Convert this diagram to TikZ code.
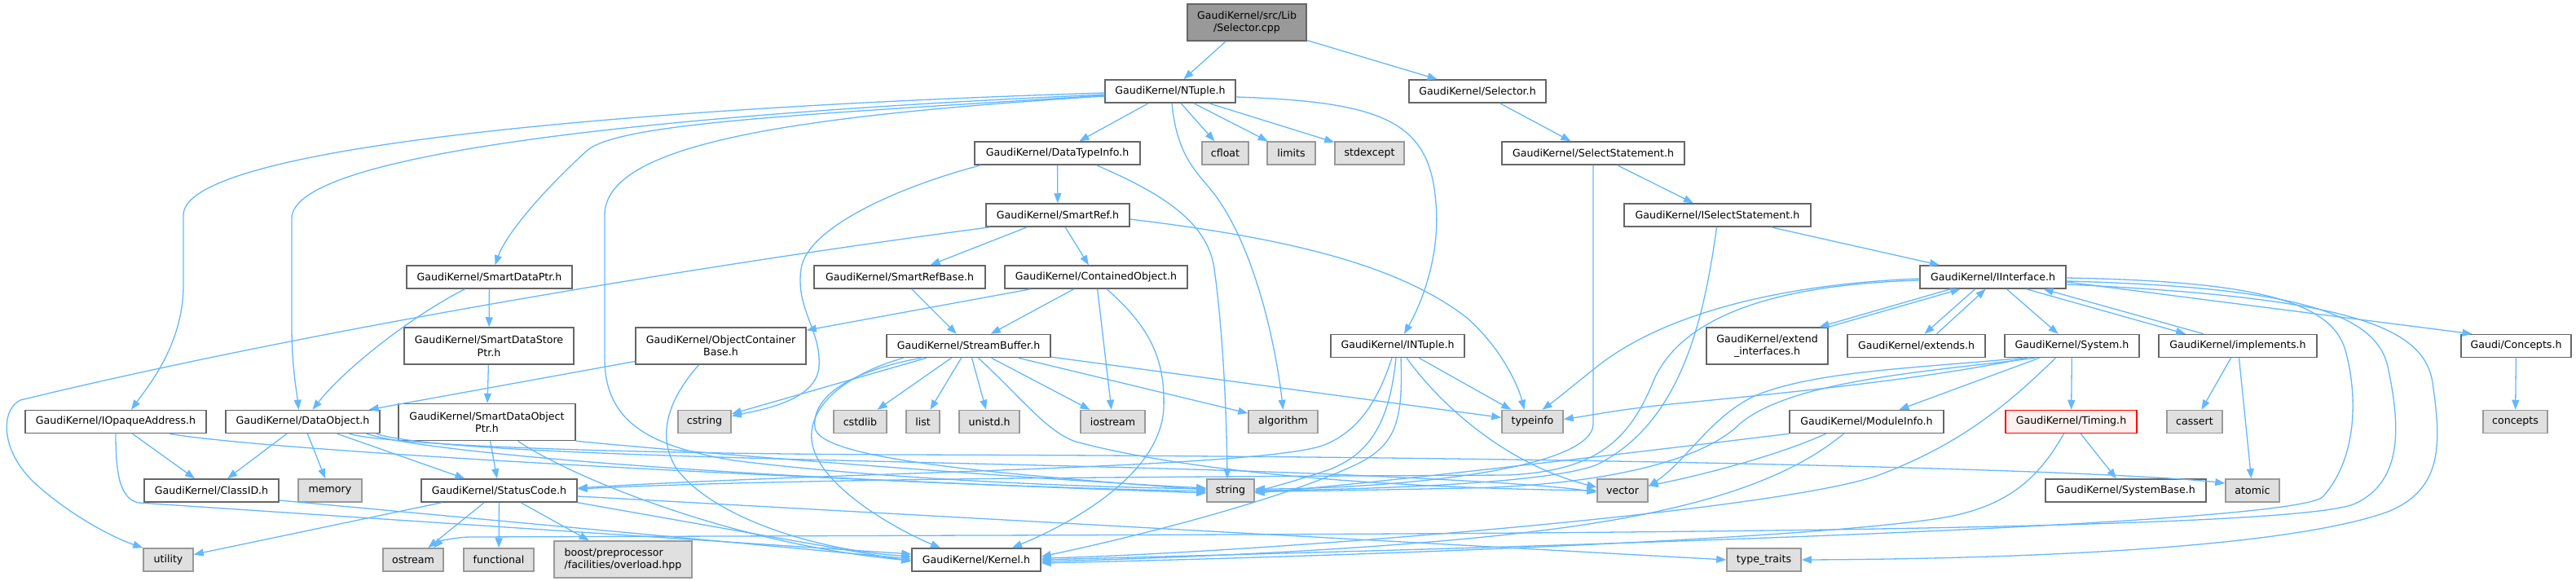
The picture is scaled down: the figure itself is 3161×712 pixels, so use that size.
\documentclass[tikz,border=0pt]{standalone}
\usepackage{fontspec}
\setmainfont{DejaVu Sans}
\usepackage{tikz}
\usetikzlibrary{arrows.meta}
\definecolor{dxblue}{HTML}{63B8FF}
\definecolor{dxline}{HTML}{666666}
\definecolor{sysfill}{HTML}{E0E0E0}
\definecolor{sysline}{HTML}{999999}
\definecolor{rootfill}{HTML}{999999}
\definecolor{cutfill}{HTML}{FFF0F0}

\begin{document}
\begin{tikzpicture}[x=1pt,y=-1pt,
  hdr/.style={draw=dxline,fill=white,line width=1.5pt,inner sep=1pt,minimum height=28pt,font=\fontsize{12.6}{15.5}\selectfont},
  sys/.style={hdr,fill=sysfill,draw=sysline},
  two/.style={hdr,minimum height=45pt,align=center},
  srcbox/.style={two,fill=rootfill},
  cut/.style={hdr,fill=cutfill,draw=red},
  dep/.style={draw=dxblue,line width=1.3pt,-{Triangle[length=12pt,width=9pt]}}]
\useasboundingbox (0,0) rectangle (3161,712);

% rows of headers
\node[srcbox,minimum width=146pt] (root) at (1530,27.5) {GaudiKernel/src/Lib\\/Selector.cpp};
\node[hdr,minimum width=160pt] (ntuple) at (1436,112) {GaudiKernel/NTuple.h};
\node[hdr,minimum width=168pt] (selh) at (1813,112) {GaudiKernel/Selector.h};
\node[hdr,minimum width=203pt] (dti) at (1297.5,188) {GaudiKernel/DataTypeInfo.h};
\node[sys,minimum width=57pt] (cfloat) at (1503.5,188) {cfloat};
\node[sys,minimum width=59pt] (limits) at (1584.5,188) {limits};
\node[sys,minimum width=85pt] (stdexcept) at (1680.5,188) {stdexcept};
\node[hdr,minimum width=224pt] (selst) at (1955,188) {GaudiKernel/SelectStatement.h};
\node[hdr,minimum width=176pt] (smartref) at (1298,264) {GaudiKernel/SmartRef.h};
\node[hdr,minimum width=229pt] (isel) at (2107.5,264) {GaudiKernel/ISelectStatement.h};
\node[hdr,minimum width=203pt] (sdptr) at (600.5,340) {GaudiKernel/SmartDataPtr.h};
\node[hdr,minimum width=210pt] (srbase) at (1104,340) {GaudiKernel/SmartRefBase.h};
\node[hdr,minimum width=224pt] (contobj) at (1345,340) {GaudiKernel/ContainedObject.h};
\node[hdr,minimum width=179pt] (iface) at (2445.5,340) {GaudiKernel/IInterface.h};
\node[two,minimum width=208pt] (sdsptr) at (600,424.5) {GaudiKernel/SmartDataStore\\Ptr.h};
\node[two,minimum width=209pt] (ocb) at (884.5,424.5) {GaudiKernel/ObjectContainer\\Base.h};
\node[hdr,minimum width=201pt] (sbuf) at (1188.5,424.5) {GaudiKernel/StreamBuffer.h};
\node[hdr,minimum width=164pt] (intuple) at (1715,424.5) {GaudiKernel/INTuple.h};
\node[two,minimum width=149pt] (extif) at (2168.5,424.5) {GaudiKernel/extend\\\_interfaces.h};
\node[hdr,minimum width=169pt] (extends) at (2351.5,424.5) {GaudiKernel/extends.h};
\node[hdr,minimum width=165pt] (system) at (2542.5,424.5) {GaudiKernel/System.h};
\node[hdr,minimum width=194pt] (impl) at (2746,424.5) {GaudiKernel/implements.h};
\node[hdr,minimum width=135pt] (concepth) at (3087.5,424.5) {Gaudi/Concepts.h};
\node[hdr,minimum width=222pt] (ioa) at (142,517.5) {GaudiKernel/IOpaqueAddress.h};
\node[hdr,minimum width=189pt] (dobj) at (371.5,517.5) {GaudiKernel/DataObject.h};
\node[two,minimum width=217pt] (sdoptr) at (597.5,518) {GaudiKernel/SmartDataObject\\Ptr.h};
\node[sys,minimum width=65pt] (cstring) at (864.5,517.5) {cstring};
\node[sys,minimum width=65pt] (cstdlib) at (1055.5,517.5) {cstdlib};
\node[sys,minimum width=41pt] (list) at (1132.5,517.5) {list};
\node[sys,minimum width=74pt] (unistd) at (1214,517.5) {unistd.h};
\node[sys,minimum width=79pt] (iostream) at (1365.5,517.5) {iostream};
\node[sys,minimum width=85pt] (algorithm) at (1574.5,517.5) {algorithm};
\node[sys,minimum width=75pt] (typeinfo) at (1880.5,517.5) {typeinfo};
\node[hdr,minimum width=189pt] (modinfo) at (2290.5,517.5) {GaudiKernel/ModuleInfo.h};
\node[cut,minimum width=161pt] (timing) at (2541.5,517.5) {GaudiKernel/Timing.h};
\node[sys,minimum width=68pt] (cassert) at (2693,517.5) {cassert};
\node[sys,minimum width=79pt] (concepts) at (3086.5,517.5) {concepts};
\node[hdr,minimum width=165pt] (classid) at (259.5,602) {GaudiKernel/ClassID.h};
\node[sys,minimum width=78pt] (memory) at (405,602) {memory};
\node[hdr,minimum width=191pt] (statuscode) at (612.5,602) {GaudiKernel/StatusCode.h};
\node[sys,minimum width=58pt] (string) at (1510,602) {string};
\node[sys,minimum width=62pt] (vector) at (1991,602) {vector};
\node[hdr,minimum width=197pt] (sysbase) at (2608.5,602) {GaudiKernel/SystemBase.h};
\node[sys,minimum width=66pt] (atomic) at (2764,602) {atomic};
\node[sys,minimum width=61pt] (utility) at (206.5,687) {utility};
\node[sys,minimum width=74pt] (ostream) at (507,687) {ostream};
\node[sys,minimum width=86pt] (functional) at (612,687) {functional};
\node[sys,minimum height=45pt,align=left,minimum width=169pt] (boost) at (764.5,686.5) {boost/preprocessor\\/facilities/overload.hpp};
\node[hdr,minimum width=158pt] (kernel) at (1198,687) {GaudiKernel/Kernel.h};
\node[sys,minimum width=91pt] (typetraits) at (2164.5,687) {type\_traits};

% short includes
\draw[dep] (root) -- (ntuple);
\draw[dep] (root) -- (selh);
\draw[dep] (selh) -- (selst);
\draw[dep] (selst) -- (isel);
\draw[dep] (isel) -- (iface);
\draw[dep] (ntuple) -- (dti);
\draw[dep] (ntuple) -- (cfloat);
\draw[dep] (ntuple) -- (limits);
\draw[dep] (ntuple) -- (stdexcept);
\draw[dep] (dti) -- (smartref);
\draw[dep] (smartref) -- (srbase);
\draw[dep] (smartref) -- (contobj);
\draw[dep] (srbase) -- (sbuf);
\draw[dep] (contobj) -- (sbuf);
\draw[dep] (contobj) -- (ocb);
\draw[dep] (contobj) -- (iostream);
\draw[dep] (sdptr) -- (sdsptr);
\draw[dep] (sdsptr) -- (sdoptr);
\draw[dep] (ocb) -- (dobj);
\draw[dep] (sbuf) -- (cstdlib);
\draw[dep] (sbuf) -- (list);
\draw[dep] (sbuf) -- (unistd);
\draw[dep] (sbuf) -- (iostream);
\draw[dep] (sbuf) -- (algorithm);
\draw[dep] (sbuf) -- (typeinfo);
\draw[dep] (sbuf) -- (cstring);
\draw[dep] (intuple) -- (typeinfo);
\draw[dep] (dobj) -- (classid);
\draw[dep] (dobj) -- (memory);
\draw[dep] (dobj) -- (statuscode);
\draw[dep] (ioa) -- (classid);
\draw[dep] (sdoptr) -- (statuscode);
\draw[dep] (statuscode) -- (utility);
\draw[dep] (statuscode) -- (ostream);
\draw[dep] (statuscode) -- (functional);
\draw[dep] (statuscode) -- (boost);
\draw[dep] (iface) -- (system);
\draw[dep] (system) -- (modinfo);
\draw[dep] (system) -- (timing);
\draw[dep] (timing) -- (sysbase);
\draw[dep] (impl) -- (cassert);
\draw[dep] (impl) -- (atomic);
\draw[dep] (concepth) -- (concepts);
\draw[dep] ([xshift=-52pt]iface.south) -- ([xshift=64pt]extif.north);
\draw[dep] (extif.north east) -- ([xshift=-40pt]iface.south);
\draw[dep] ([xshift=-22pt]iface.south) -- ([xshift=10pt]extends.north);
\draw[dep] ([xshift=25pt]extends.north) -- ([xshift=-9pt]iface.south);
\draw[dep] ([xshift=41pt]iface.south) -- ([xshift=-64pt]impl.north);
\draw[dep] ([xshift=-42pt]impl.north) -- ([xshift=62pt]iface.south);
\draw[dep] ([yshift=-6pt]iface.east) -- ([xshift=-54pt]concepth.north);

% NTuple.h
\draw[dep] ([yshift=-2pt]ntuple.west) .. controls (900,128) and (225,170) .. (225,264) -- (225,350) .. controls (225,420) and (185,470) .. ([xshift=19pt]ioa.north);
\draw[dep] ([yshift=-4pt]ntuple.west) .. controls (900,136) and (358,180) .. (358,268) -- (358,400) .. controls (358,450) and (364,480) .. ([xshift=-5pt]dobj.north);
\draw[dep] ([yshift=-5pt]ntuple.west) .. controls (1000,140) and (760,150) .. (720,185) .. controls (660,240) and (620,290) .. ([xshift=7pt]sdptr.north);
\draw[dep] ([yshift=-6pt]ntuple.west) .. controls (980,142) and (742,175) .. (742,264) -- (742,440) .. controls (742,520) and (800,548) .. (900,565) .. controls (1100,590) and (1350,598) .. ([yshift=2pt]string.west);
\draw[dep] ([xshift=2pt]ntuple.south) .. controls (1445,200) and (1475,215) .. (1495,245) .. controls (1540,310) and (1565,420) .. (algorithm.north);
\draw[dep] ([yshift=-7pt]ntuple.east) .. controls (1700,125) and (1755,150) .. (1762,250) .. controls (1768,320) and (1740,380) .. ([xshift=8pt]intuple.north);

% DataTypeInfo.h, SmartRef.h, ContainedObject.h
\draw[dep] ([xshift=-94pt]dti.south) .. controls (1100,230) and (990,280) .. (983,330) .. controls (976,380) and (1008,405) .. (1005,450) .. controls (1002,490) and (940,502) .. ([yshift=7pt]cstring.east);
\draw[dep] ([xshift=48pt]dti.south) .. controls (1420,235) and (1482,270) .. (1490,330) .. controls (1500,400) and (1505,500) .. ([xshift=-4pt]string.north);
\draw[dep] ([yshift=-5pt]smartref.east) .. controls (1560,290) and (1710,320) .. (1800,390) .. controls (1840,425) and (1862,470) .. ([xshift=-10pt]typeinfo.north);
\draw[dep] ([xshift=-83pt]smartref.south) .. controls (900,320) and (400,400) .. (25,491) .. controls (0,503) and (0,555) .. (45,595) .. controls (90,635) and (140,660) .. (utility.north west);
\draw[dep] ([xshift=13pt]contobj.south) .. controls (1410,400) and (1430,440) .. (1428,500) .. controls (1425,580) and (1320,640) .. ([xshift=44pt]kernel.north);

% smart pointers and containers
\draw[dep] ([xshift=-30pt]sdptr.south) .. controls (510,385) and (425,450) .. ([xshift=12pt]dobj.north);
\draw[dep] ([xshift=-27pt]ocb.south) .. controls (820,490) and (805,535) .. (830,575) .. controls (875,635) and (1000,675) .. ([yshift=4pt]kernel.west);
\draw[dep] (sdoptr.south east) .. controls (900,560) and (1300,590) .. ([yshift=3pt]string.west);
\draw[dep] ([xshift=38pt]sdoptr.south) .. controls (700,585) and (900,668) .. ([yshift=-1pt]kernel.west);

% StreamBuffer.h
\draw[dep] ([xshift=-58pt]sbuf.south) .. controls (1060,452) and (995,480) .. (1000,525) .. controls (1006,562) and (1200,580) .. ([yshift=1pt]string.west);
\draw[dep] ([xshift=-80pt]sbuf.south) .. controls (1030,462) and (985,505) .. (998,550) .. controls (1012,600) and (1100,650) .. ([xshift=-44pt]kernel.north);
\draw[dep] ([xshift=12pt]sbuf.south) .. controls (1255,490) and (1285,530) .. (1320,542) .. controls (1500,590) and (1800,600) .. (vector.west);

% INTuple.h
\draw[dep] ([xshift=11pt]intuple.south) .. controls (1770,500) and (1850,570) .. ([yshift=4pt]vector.west);
\draw[dep] ([xshift=-2pt]intuple.south) .. controls (1705,520) and (1680,562) .. (1620,580) .. controls (1590,590) and (1560,598) .. ([yshift=-2pt]string.east);
\draw[dep] ([xshift=-7pt]intuple.south) .. controls (1690,495) and (1665,530) .. (1625,546) .. controls (1550,575) and (1000,580) .. ([yshift=3pt]statuscode.east);
\draw[dep] ([xshift=4pt]intuple.south) .. controls (1722,520) and (1712,548) .. (1660,572) .. controls (1550,622) and (1350,668) .. ([yshift=4pt]kernel.east);

% DataObject.h, IOpaqueAddress.h, ClassID.h, StatusCode.h
\draw[dep] ([xshift=57pt]dobj.south) .. controls (460,542) and (650,556) .. (1100,558) .. controls (2000,560) and (2600,578) .. ([yshift=9pt]atomic.west);
\draw[dep] ([xshift=78pt]dobj.south) .. controls (540,560) and (1000,592) .. ([yshift=-1pt]string.west);
\draw[dep] ([xshift=-5pt]dobj.south east) .. controls (560,565) and (1300,565) .. (1700,585) .. controls (1850,592) and (1920,598) .. ([yshift=-2pt]vector.west);
\draw[dep] (ioa.south) .. controls (142,585) and (148,612) .. (170,617) -- ([yshift=7pt]kernel.west);
\draw[dep] ([xshift=66pt]ioa.south) .. controls (320,552) and (900,585) .. ([yshift=-3pt]string.west);
\draw[dep] ([yshift=-12pt]classid.east) -- ([yshift=1pt]kernel.west);
\draw[dep] ([yshift=-7pt]statuscode.east) -- (typetraits.west);
\draw[dep] (statuscode.south east) -- ([yshift=-2pt]kernel.west);

% SelectStatement.h, ISelectStatement.h
\draw[dep] (selst.south) -- (1955,520) .. controls (1955,578) and (1700,600) .. ([yshift=2pt]string.east);
\draw[dep] ([xshift=-1pt]isel.south) .. controls (2090,400) and (2060,520) .. (1960,570) .. controls (1900,595) and (1650,601) .. (string.east);

% IInterface.h
\draw[dep] ([yshift=-2pt]iface.west) .. controls (2200,348) and (2050,380) .. (1962,448) .. controls (1932,472) and (1910,490) .. ([xshift=12pt]typeinfo.north);
\draw[dep] ([yshift=-4pt]iface.west) .. controls (2150,350) and (2060,400) .. (2030,465) .. controls (2000,540) and (1960,578) .. (1850,583) .. controls (1500,585) and (1000,586) .. ([yshift=2pt]statuscode.east);
\draw[dep] ([yshift=-1pt]iface.east) .. controls (2750,345) and (2860,365) .. (2878,430) .. controls (2892,480) and (2895,560) .. (2850,610) .. controls (2800,650) and (1600,678) .. (kernel.east);
\draw[dep] ([yshift=-5pt]iface.east) .. controls (2800,352) and (2915,380) .. (2930,450) .. controls (2945,520) and (2950,590) .. (2890,618) .. controls (2820,650) and (2000,655) .. (1200,657) -- (575,659) .. controls (555,660) and (540,664) .. ([xshift=25pt]ostream.north);
\draw[dep] ([yshift=-9pt]iface.east) .. controls (2880,365) and (2975,400) .. (2985,470) .. controls (2995,540) and (3000,600) .. (2930,628) .. controls (2800,675) and (2450,686) .. (typetraits.east);

% System.h, ModuleInfo.h, Timing.h
\draw[dep] ([xshift=-55pt]system.south) .. controls (2350,468) and (2150,486) .. (2050,496) .. controls (1990,502) and (1950,510) .. ([yshift=3pt]typeinfo.east);
\draw[dep] ([xshift=-60pt]system.south) .. controls (2350,452) and (2230,455) .. (2155,485) .. controls (2100,510) and (2070,565) .. ([yshift=5pt]vector.east);
\draw[dep] ([xshift=-45pt]system.south) .. controls (2380,455) and (2200,465) .. (2135,520) .. controls (2085,570) and (1950,596) .. (1800,599) .. controls (1650,602) and (1580,603) .. ([yshift=-1pt]string.east);
\draw[dep] ([xshift=-20pt]system.south) .. controls (2470,490) and (2410,545) .. (2300,585) .. controls (2150,632) and (1500,680) .. ([yshift=2pt]kernel.east);
\draw[dep] (modinfo.south west) .. controls (2050,550) and (1700,592) .. ([yshift=-3pt]string.east);
\draw[dep] ([xshift=-50pt]modinfo.south) .. controls (2180,560) and (2080,585) .. ([yshift=6pt]vector.east);
\draw[dep] ([xshift=-28pt]modinfo.south) .. controls (2210,575) and (2120,622) .. (1900,650) .. controls (1700,676) and (1400,686) .. ([yshift=-2pt]kernel.east);
\draw[dep] ([xshift=-9pt]timing.south) .. controls (2505,580) and (2470,622) .. (2380,636) .. controls (2200,664) and (1600,684) .. ([yshift=-4pt]kernel.east);
\end{tikzpicture}
\end{document}
